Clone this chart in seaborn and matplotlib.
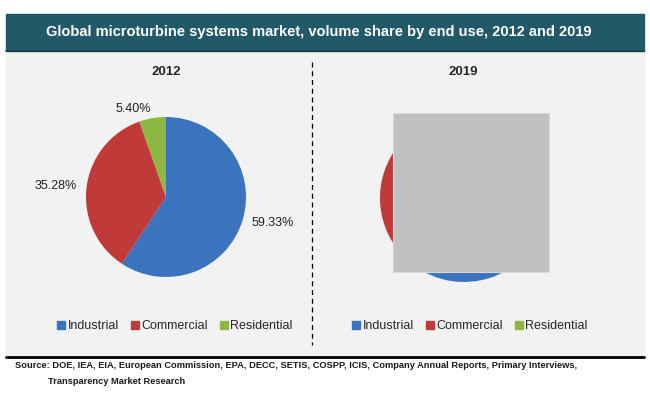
import matplotlib
matplotlib.use("Agg")
import matplotlib.pyplot as plt
import matplotlib.patches as mpatches
import matplotlib.lines as mlines
import seaborn as sns

# data
segments = ["Industrial", "Commercial", "Residential"]
share_2012 = [59.33, 35.28, 5.40]
share_2019 = [60.0, 34.5, 5.5]  # hidden in the reference, estimated
years = ["2012", "2019"]

sns.set_style("white")
plt.rcParams["font.family"] = ["Liberation Sans", "DejaVu Sans"]

colors = sns.color_palette(["#3a74be", "#bf3a38", "#8cb842"])
W, H = 650, 393

fig = plt.figure(figsize=(6.5, 3.93), dpi=100)
fig.patch.set_facecolor("white")


def fx(px):
    return px / W


def fy(py):
    return 1 - py / H


# grey panel and title bar
fig.patches.append(mpatches.Rectangle((fx(6), fy(356)), fx(638), (356 - 50) / H,
                                      transform=fig.transFigure, color="#f2f2f2", zorder=-5))
fig.patches.append(mpatches.Rectangle((fx(6), fy(51)), fx(638), (51 - 14) / H,
                                      transform=fig.transFigure, color="#215968", zorder=-4))
fig.lines.append(mlines.Line2D([fx(6), fx(644)], [fy(51), fy(51)], transform=fig.transFigure,
                               color="#16404b", lw=1.2, zorder=-3))
fig.text(fx(319), fy(32), "Global microturbine systems market, volume share by end use, 2012 and 2019",
         color="white", fontsize=10.5, fontweight="bold", ha="center", va="center")

# divider and bottom rule
fig.lines.append(mlines.Line2D([fx(312), fx(312)], [fy(62), fy(345)], transform=fig.transFigure,
                               color="black", lw=0.9, ls=(0, (4, 3)), zorder=-3))
fig.lines.append(mlines.Line2D([fx(6), fx(644)], [fy(357), fy(357)], transform=fig.transFigure,
                               color="black", lw=2, zorder=-3))


def draw_pie(cx, cy, r, values, show_labels):
    ax = fig.add_axes([fx(cx - r), fy(cy + r), 2 * r / W, 2 * r / H])
    labels = [f"{v:.2f}%" for v in values] if show_labels else None
    ax.pie(values, colors=colors, startangle=90, counterclock=False, labels=labels,
           labeldistance=1.12, textprops={"fontsize": 9, "color": "#222222"},
           wedgeprops={"linewidth": 0})
    ax.set_xlim(-1, 1)
    ax.set_ylim(-1, 1)
    ax.set_aspect("equal")
    ax.axis("off")
    return ax


draw_pie(166, 197, 80, share_2012, True)
draw_pie(464, 198, 84, share_2019, False)

for x, yr in [(166, years[0]), (463, years[1])]:
    fig.text(fx(x), fy(72), yr, fontsize=9.5, fontweight="bold", ha="center", va="center")

# grey box covering the 2019 pie
fig.patches.append(mpatches.Rectangle((fx(393), fy(272)), fx(156), (272 - 113) / H,
                                      transform=fig.transFigure, facecolor="#c0c0c0",
                                      edgecolor="#d8d8d8", lw=0.8, zorder=5))

handles = [mpatches.Patch(color=c, label=s) for c, s in zip(colors, segments)]
for x in [175, 470]:
    fig.legend(handles=handles, loc="center", bbox_to_anchor=(fx(x), fy(326)), ncol=3,
               frameon=False, fontsize=9, handlelength=0.6, handleheight=0.6,
               handletextpad=0.2, columnspacing=1.0)

fig.text(fx(15), fy(366), "Source: DOE, IEA, EIA, European Commission, EPA, DECC, SETIS, COSPP, ICIS, "
         "Company Annual Reports, Primary Interviews,", fontsize=6.7, fontweight="bold",
         color="#1a1a1a", va="center")
fig.text(fx(48), fy(382), "Transparency Market Research", fontsize=6.7, fontweight="bold",
         color="#1a1a1a", va="center")

fig.savefig("out.png", dpi=100)
